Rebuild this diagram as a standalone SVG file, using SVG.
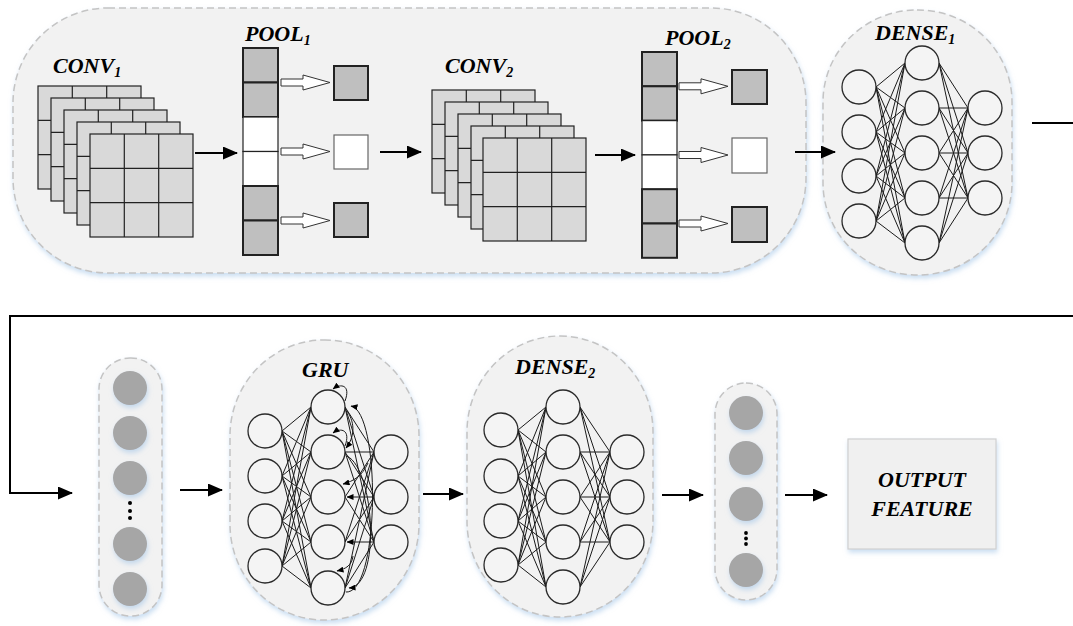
<svg xmlns="http://www.w3.org/2000/svg" width="1073" height="626" viewBox="0 0 1073 626">
  <style>
    .box { fill: #f2f2f2; stroke: #c4c4c4; stroke-width: 1.5; stroke-dasharray: 7 4; filter: url(#glow); }
    .lbl { font-family: "Liberation Serif", "Times New Roman", serif; font-weight: bold; font-style: italic; font-size: 22px; fill: #000; }
    .sub { font-size: 14px; }
    .wire { stroke: #000; stroke-width: 2; fill: none; }
    .arrow { stroke: #000; stroke-width: 2; fill: none; marker-end: url(#head); }
    .edge { stroke: #1a1a1a; stroke-width: 1; fill: none; }
    .rec { stroke: #1a1a1a; stroke-width: 1; fill: none; marker-end: url(#tiny); }
    .neuron { fill: #f4f4f4; stroke: #2a2a2a; stroke-width: 1.3; }
    .dot { fill: #a6a6a6; filter: url(#glow); }
    .pool-on { fill: #bfbfbf; stroke: #222; stroke-width: 2; }
    .pool-off { fill: #ffffff; stroke: #222; stroke-width: 1.2; }
    .sq-on { fill: #bfbfbf; stroke: #222; stroke-width: 2; }
    .sq-off { fill: #ffffff; stroke: #666; stroke-width: 1.2; }
    .hollow { fill: #ffffff; stroke: #333; stroke-width: 1; }
  </style>
  <defs>
    <filter id="glow" x="-20%" y="-20%" width="140%" height="140%">
      <feDropShadow dx="1" dy="3" stdDeviation="2.5" flood-color="#9fc3e6" flood-opacity="0.55"/>
    </filter>
    <marker id="head" markerUnits="userSpaceOnUse" markerWidth="15" markerHeight="13" refX="14" refY="6.5" orient="auto">
      <path d="M0,0 L15,6.5 L0,13 Z" fill="#000"/>
    </marker>
    <marker id="tiny" markerUnits="userSpaceOnUse" markerWidth="7" markerHeight="6" refX="6.5" refY="3" orient="auto">
      <path d="M0,0 L7,3 L0,6 Z" fill="#000"/>
    </marker>
    <!-- one 3x3 feature map -->
    <symbol id="fmap" overflow="visible">
      <rect x="0" y="0" width="103" height="103" fill="#d9d9d9" stroke="#222" stroke-width="1.2"/>
      <path d="M34.3,0V103M68.7,0V103M0,34.3H103M0,68.7H103" stroke="#222" stroke-width="1.2"/>
    </symbol>
    <!-- hollow block arrow used by the pooling stages -->
    <path id="harrow" class="hollow" d="M0,-3.5 H22 V-7.5 L49,0 L22,7.5 V3.5 H0 Z"/>
  </defs>

  <rect width="1073" height="626" fill="#ffffff"/>

  <!-- convolution / pooling block -->
  <g id="cnn-block">
    <rect class="box" x="13" y="8" width="793" height="265" rx="95" ry="95"/>
  </g>

  <g id="conv1">
    <use href="#fmap" x="38" y="86"/>
    <use href="#fmap" x="51" y="98"/>
    <use href="#fmap" x="64" y="110"/>
    <use href="#fmap" x="77" y="122"/>
    <use href="#fmap" x="90" y="134"/>
    <text class="lbl" x="53" y="73">CONV<tspan class="sub" dy="4">1</tspan></text>
  </g>

  <g id="pool1">
    <rect class="pool-on" x="243" y="48" width="35" height="34.5"/>
    <rect class="pool-on" x="243" y="82.5" width="35" height="34.5"/>
    <rect class="pool-off" x="243" y="117" width="35" height="34.5"/>
    <rect class="pool-off" x="243" y="151.5" width="35" height="34.5"/>
    <rect class="pool-on" x="243" y="186" width="35" height="34.5"/>
    <rect class="pool-on" x="243" y="220.5" width="35" height="34.5"/>
    <use href="#harrow" transform="translate(281,82.5)"/>
    <use href="#harrow" transform="translate(281,151.5)"/>
    <use href="#harrow" transform="translate(281,220.5)"/>
    <rect class="sq-on" x="334" y="66" width="34" height="34"/>
    <rect class="sq-off" x="334" y="135" width="34" height="34"/>
    <rect class="sq-on" x="334" y="203" width="34" height="34"/>
    <text class="lbl" x="245" y="41">POOL<tspan class="sub" dy="4">1</tspan></text>
  </g>

  <g id="conv2">
    <use href="#fmap" x="432" y="90"/>
    <use href="#fmap" x="445" y="102"/>
    <use href="#fmap" x="458" y="114"/>
    <use href="#fmap" x="471" y="126"/>
    <use href="#fmap" x="483" y="138"/>
    <text class="lbl" x="445" y="73">CONV<tspan class="sub" dy="4">2</tspan></text>
  </g>

  <g id="pool2">
    <rect class="pool-on" x="642" y="52" width="35" height="34.3"/>
    <rect class="pool-on" x="642" y="86.3" width="35" height="34.3"/>
    <rect class="pool-off" x="642" y="120.6" width="35" height="34.3"/>
    <rect class="pool-off" x="642" y="154.9" width="35" height="34.3"/>
    <rect class="pool-on" x="642" y="189.2" width="35" height="34.3"/>
    <rect class="pool-on" x="642" y="223.5" width="35" height="34.3"/>
    <use href="#harrow" transform="translate(679,86.3)"/>
    <use href="#harrow" transform="translate(679,155)"/>
    <use href="#harrow" transform="translate(679,223.5)"/>
    <rect class="sq-on" x="732" y="70" width="35" height="34"/>
    <rect class="sq-off" x="732" y="138" width="35" height="35"/>
    <rect class="sq-on" x="732" y="207" width="35" height="35"/>
    <text class="lbl" x="665" y="45">POOL<tspan class="sub" dy="4">2</tspan></text>
  </g>

  <g id="dense1">
    <rect class="box" x="823" y="10" width="189" height="265" rx="94" ry="92"/>
    <path class="edge" d="M876 87L905 63M876 87L905 108M876 87L905 153M876 87L905 198M876 87L905 243
      M876 132L905 63M876 132L905 108M876 132L905 153M876 132L905 198M876 132L905 243
      M876 176L905 63M876 176L905 108M876 176L905 153M876 176L905 198M876 176L905 243
      M876 221L905 63M876 221L905 108M876 221L905 153M876 221L905 198M876 221L905 243
      M939 63L968 108M939 63L968 153M939 63L968 198
      M939 108L968 108M939 108L968 153M939 108L968 198
      M939 153L968 108M939 153L968 153M939 153L968 198
      M939 198L968 108M939 198L968 153M939 198L968 198
      M939 243L968 108M939 243L968 153M939 243L968 198"/>
    <circle class="neuron" cx="859" cy="87" r="17"/>
    <circle class="neuron" cx="859" cy="132" r="17"/>
    <circle class="neuron" cx="859" cy="176" r="17"/>
    <circle class="neuron" cx="859" cy="221" r="17"/>
    <circle class="neuron" cx="922" cy="63" r="17"/>
    <circle class="neuron" cx="922" cy="108" r="17"/>
    <circle class="neuron" cx="922" cy="153" r="17"/>
    <circle class="neuron" cx="922" cy="198" r="17"/>
    <circle class="neuron" cx="922" cy="243" r="17"/>
    <circle class="neuron" cx="985" cy="108" r="17"/>
    <circle class="neuron" cx="985" cy="153" r="17"/>
    <circle class="neuron" cx="985" cy="198" r="17"/>
    <text class="lbl" x="875" y="40">DENSE<tspan class="sub" dy="4">1</tspan></text>
  </g>

  <g id="sequence-in">
    <rect class="box" x="99" y="358" width="63" height="258" rx="31" ry="31"/>
    <circle class="dot" cx="130" cy="388" r="17"/>
    <circle class="dot" cx="130" cy="433" r="17"/>
    <circle class="dot" cx="130" cy="478" r="17"/>
    <circle cx="130" cy="503" r="2" fill="#000"/>
    <circle cx="130" cy="511" r="2" fill="#000"/>
    <circle cx="130" cy="518" r="2" fill="#000"/>
    <circle class="dot" cx="130" cy="544" r="17"/>
    <circle class="dot" cx="130" cy="589" r="17"/>
  </g>

  <g id="gru">
    <rect class="box" x="230" y="340" width="189" height="280" rx="94" ry="96"/>
    <path class="edge" d="M282 431L311 407M282 431L311 452M282 431L311 497M282 431L311 542M282 431L311 588
      M282 476L311 407M282 476L311 452M282 476L311 497M282 476L311 542M282 476L311 588
      M282 521L311 407M282 521L311 452M282 521L311 497M282 521L311 542M282 521L311 588
      M282 566L311 407M282 566L311 452M282 566L311 497M282 566L311 542M282 566L311 588
      M345 407L374 452M345 407L374 497M345 407L374 542
      M345 452L374 452M345 452L374 497M345 452L374 542
      M345 588L374 452M345 588L374 497M345 588L374 542
      M345 497L374 452M345 542L374 452M345 497L374 542M345 542L374 497"/>
    <!-- recurrent feedback -->
    <path class="rec" d="M374 497H347"/>
    <path class="rec" d="M374 542H347"/>
    <path class="rec" d="M345 401C351 385 341 383 333 389"/>
    <path class="rec" d="M345 446C351 430 341 427 333 433"/>
    <path class="rec" d="M347 411C356 424 354 438 346 448"/>
    <path class="rec" d="M346 592C380 594 381 412 351 406"/>
    <path class="rec" d="M347 456C375 470 381 586 349 588"/>
    <path class="rec" d="M368 463C362 476 354 481 343 484"/>
    <path class="rec" d="M353 556C352 565 346 569 337 571"/>
    <circle class="neuron" cx="265" cy="431" r="17"/>
    <circle class="neuron" cx="265" cy="476" r="17"/>
    <circle class="neuron" cx="265" cy="521" r="17"/>
    <circle class="neuron" cx="265" cy="566" r="17"/>
    <circle class="neuron" cx="328" cy="407" r="17"/>
    <circle class="neuron" cx="328" cy="452" r="17"/>
    <circle class="neuron" cx="328" cy="497" r="17"/>
    <circle class="neuron" cx="328" cy="542" r="17"/>
    <circle class="neuron" cx="328" cy="588" r="17"/>
    <circle class="neuron" cx="391" cy="452" r="17"/>
    <circle class="neuron" cx="391" cy="497" r="17"/>
    <circle class="neuron" cx="391" cy="542" r="17"/>
    <text class="lbl" x="302" y="377">GRU</text>
  </g>

  <g id="dense2">
    <rect class="box" x="467" y="336" width="186" height="281" rx="93" ry="96"/>
    <path class="edge" d="M518 430L546 407M518 430L546 452M518 430L546 497M518 430L546 542M518 430L546 587
      M518 476L546 407M518 476L546 452M518 476L546 497M518 476L546 542M518 476L546 587
      M518 521L546 407M518 521L546 452M518 521L546 497M518 521L546 542M518 521L546 587
      M518 565L546 407M518 565L546 452M518 565L546 497M518 565L546 542M518 565L546 587
      M580 407L610 452M580 407L610 497M580 407L610 542
      M580 452L610 452M580 452L610 497M580 452L610 542
      M580 497L610 452M580 497L610 497M580 497L610 542
      M580 542L610 452M580 542L610 497M580 542L610 542
      M580 587L610 452M580 587L610 497M580 587L610 542"/>
    <circle class="neuron" cx="501" cy="430" r="17"/>
    <circle class="neuron" cx="501" cy="476" r="17"/>
    <circle class="neuron" cx="501" cy="521" r="17"/>
    <circle class="neuron" cx="501" cy="565" r="17"/>
    <circle class="neuron" cx="563" cy="407" r="17"/>
    <circle class="neuron" cx="563" cy="452" r="17"/>
    <circle class="neuron" cx="563" cy="497" r="17"/>
    <circle class="neuron" cx="563" cy="542" r="17"/>
    <circle class="neuron" cx="563" cy="587" r="17"/>
    <circle class="neuron" cx="627" cy="452" r="17"/>
    <circle class="neuron" cx="627" cy="497" r="17"/>
    <circle class="neuron" cx="627" cy="542" r="17"/>
    <text class="lbl" x="515" y="374">DENSE<tspan class="sub" dy="4">2</tspan></text>
  </g>

  <g id="sequence-out">
    <rect class="box" x="715" y="383" width="62" height="217" rx="31" ry="31"/>
    <circle class="dot" cx="746" cy="413" r="17"/>
    <circle class="dot" cx="746" cy="458" r="17"/>
    <circle class="dot" cx="746" cy="504" r="17"/>
    <circle cx="746" cy="533" r="1.9" fill="#000"/>
    <circle cx="746" cy="538.5" r="1.9" fill="#000"/>
    <circle cx="746" cy="544" r="1.9" fill="#000"/>
    <circle class="dot" cx="746" cy="570" r="17"/>
  </g>

  <g id="output-feature">
    <rect x="848" y="439" width="148" height="110" fill="#f0f0f0" stroke="#d0d0d0" stroke-width="1.2" filter="url(#glow)"/>
    <text class="lbl" x="922" y="487" text-anchor="middle" font-size="23">OUTPUT</text>
    <text class="lbl" x="922" y="516" text-anchor="middle" font-size="23">FEATURE</text>
  </g>

  <g id="connectors">
    <path class="arrow" d="M195 153H237"/>
    <path class="arrow" d="M380 152H421"/>
    <path class="arrow" d="M595 155H635"/>
    <path class="arrow" d="M795 152H835"/>
    <path class="wire" d="M1032 123H1073"/>
    <path class="arrow" d="M1073 316H10V493H72"/>
    <path class="arrow" d="M180 490H222"/>
    <path class="arrow" d="M423 494H463"/>
    <path class="arrow" d="M662 495H703"/>
    <path class="arrow" d="M785 495H827"/>
  </g>
</svg>
